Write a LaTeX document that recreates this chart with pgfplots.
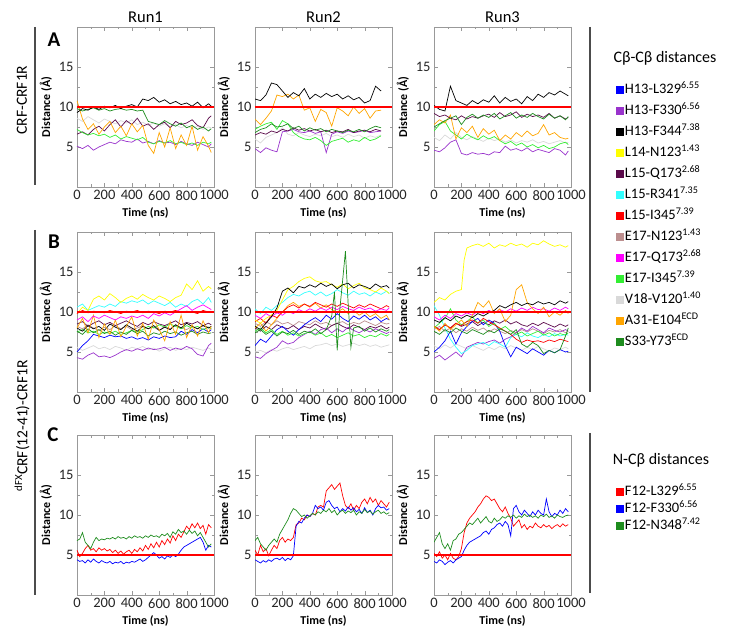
\documentclass[border=0pt]{standalone}
\usepackage{fontspec}
\setmainfont{Carlito}
\usepackage{pgfplots}
\pgfplotsset{compat=1.18}

\definecolor{cBlue}{HTML}{0000FF}
\definecolor{cPurple}{HTML}{9933CC}
\definecolor{cBlack}{HTML}{000000}
\definecolor{cYellow}{HTML}{FFFF00}
\definecolor{cMaroon}{HTML}{5A0A4A}
\definecolor{cCyan}{HTML}{33FFFF}
\definecolor{cRed}{HTML}{FF0000}
\definecolor{cRosy}{HTML}{BC8F8F}
\definecolor{cMagenta}{HTML}{FF00FF}
\definecolor{cGreen}{HTML}{33EE33}
\definecolor{cGray}{HTML}{D9D9D9}
\definecolor{cOrange}{HTML}{FFA500}
\definecolor{cDGreen}{HTML}{1E8C1E}

\pgfplotsset{
  panel/.style={
    scale only axis, width=137pt, height=160pt, anchor=south west,
    xmin=0, xmax=1000, ymin=0, ymax=20,
    xtick={0,200,...,1000}, ytick={5,10,15},
    minor x tick num=1, minor y tick num=1,
    tick align=inside, major tick length=4pt, minor tick length=2.5pt,
    axis line style={black!40}, tick style={black!40},
    tick label style={font=\fontsize{14.5}{15}\selectfont, text=black!85},
    /pgf/number format/assume math mode=true,
    /pgf/number format/1000 sep={},
    label style={font=\fontsize{12}{12}\selectfont\bfseries},
    xlabel={Time (ns)}, ylabel={Distance (Å)},
    every axis plot/.append style={line width=0.7pt},
    legend image code/.code={\fill[##1] (0pt,-3.5pt) rectangle (7pt,3.5pt);},
    legend cell align=left,
  },
  thr/.style={cRed, line width=1.7pt, forget plot},
}

\begin{document}
\begin{tikzpicture}[x=1pt,y=1pt]

% ---------------- row A: CRF-CRF1R ----------------
\begin{axis}[panel, at={(77pt,447pt)}]
\addplot[cGray] coordinates {(0,8.6)(40,8.2)(80,8.8)(120,8.4)(160,8.0)(200,8.5)(240,8.2)(280,7.9)(320,8.3)(360,8.0)(400,8.4)(440,7.8)(480,8.1)(520,7.7)(560,8.0)(600,7.6)(640,7.9)(680,7.5)(720,7.8)(760,7.4)(800,7.7)(840,7.3)(880,7.6)(920,7.2)(960,7.5)(980,7.4)};
\addplot[cPurple] coordinates {(0,5.1)(40,4.8)(80,5.2)(120,4.6)(160,5.0)(200,5.3)(240,5.6)(280,5.4)(320,5.9)(360,5.7)(400,5.6)(440,6.0)(480,5.5)(520,5.7)(560,5.4)(600,5.8)(640,5.5)(680,5.6)(720,5.3)(760,5.7)(800,5.4)(840,5.2)(880,5.6)(920,5.3)(960,5.0)(980,5.4)};
\addplot[cMaroon] coordinates {(0,6.6)(40,6.9)(80,6.5)(120,7.2)(160,7.6)(200,7.0)(240,7.8)(280,8.4)(320,7.5)(360,8.3)(400,7.8)(440,8.6)(480,7.6)(520,7.9)(560,7.2)(600,7.8)(640,8.1)(680,7.4)(720,8.2)(760,7.8)(800,8.0)(840,8.4)(880,7.7)(920,7.4)(960,8.6)(980,8.9)};
\addplot[cGreen] coordinates {(0,7.2)(40,6.8)(80,6.5)(120,6.7)(160,6.4)(200,6.6)(240,6.2)(280,6.5)(320,6.0)(360,6.3)(400,6.1)(440,5.9)(480,6.2)(520,5.6)(560,5.4)(600,5.7)(640,5.5)(680,5.8)(720,5.4)(760,5.6)(800,5.3)(840,5.5)(880,5.2)(920,5.6)(960,5.4)(980,5.6)};
\addplot[cOrange] coordinates {(0,10.8)(40,8.5)(80,7.2)(120,7.9)(160,6.6)(200,7.5)(240,8.2)(280,6.8)(320,7.6)(360,6.4)(400,7.9)(440,6.9)(480,7.7)(520,5.2)(560,4.2)(600,6.8)(640,5.0)(680,7.4)(720,4.8)(760,6.5)(800,5.2)(840,7.6)(880,4.6)(920,6.3)(960,5.1)(980,4.3)};
\addplot[cDGreen] coordinates {(0,9.8)(40,9.5)(80,9.7)(120,9.9)(160,9.6)(200,9.8)(240,9.5)(280,9.7)(320,9.8)(360,9.6)(400,9.7)(440,9.5)(480,9.6)(520,8.2)(560,8.0)(600,7.8)(640,8.3)(680,7.9)(720,7.6)(760,8.0)(800,7.4)(840,7.7)(880,7.2)(920,7.5)(960,7.0)(980,7.3)};
\addplot[cBlack] coordinates {(0,9.3)(40,9.8)(80,9.6)(120,10.0)(160,9.7)(200,10.1)(240,9.9)(280,10.2)(320,9.8)(360,10.1)(400,10.3)(440,10.0)(480,11.0)(520,10.8)(560,11.2)(600,10.6)(640,10.9)(680,10.4)(720,10.7)(760,10.3)(800,10.5)(840,10.1)(880,10.6)(920,9.9)(960,10.4)(980,10.1)};
\addplot[thr] coordinates {(0,10)(1000,10)};
\end{axis}

\begin{axis}[panel, at={(255pt,447pt)}]
\addplot[cGray] coordinates {(0,6.0)(40,5.5)(80,6.2)(120,6.5)(160,6.8)(200,7.4)(240,6.6)(280,6.4)(320,6.8)(360,6.5)(400,6.3)(440,6.6)(480,6.4)(520,6.7)(560,6.3)(600,6.5)(640,6.2)(680,6.6)(720,6.3)(760,6.5)(800,6.1)(840,6.4)(880,6.2)(920,6.5)};
\addplot[cPurple] coordinates {(0,4.8)(40,4.3)(80,4.9)(120,4.6)(160,4.4)(200,6.9)(240,7.0)(280,7.2)(320,6.9)(360,6.8)(400,7.0)(440,6.7)(480,6.9)(520,4.3)(560,6.6)(600,6.9)(640,6.7)(680,7.0)(720,6.8)(760,6.9)(800,7.1)(840,6.8)(880,6.9)(920,7.0)};
\addplot[cMaroon] coordinates {(0,6.5)(40,6.8)(80,6.6)(120,7.0)(160,6.8)(200,7.2)(240,7.0)(280,7.4)(320,7.1)(360,7.3)(400,7.0)(440,7.2)(480,6.9)(520,7.1)(560,6.8)(600,7.0)(640,6.9)(680,7.2)(720,6.8)(760,7.0)(800,7.1)(840,6.9)(880,7.2)(920,7.0)};
\addplot[cGreen] coordinates {(0,7.2)(40,7.6)(80,7.9)(120,8.1)(160,7.2)(200,8.3)(240,7.9)(280,6.8)(320,6.3)(360,6.0)(400,5.9)(440,6.2)(480,5.8)(520,5.2)(560,5.7)(600,5.9)(640,6.1)(680,5.6)(720,5.9)(760,5.7)(800,6.2)(840,5.8)(880,6.0)(920,6.4)};
\addplot[cDGreen] coordinates {(0,6.8)(40,7.2)(80,7.4)(120,7.9)(160,7.5)(200,7.6)(240,7.9)(280,7.3)(320,7.6)(360,7.0)(400,7.4)(440,7.1)(480,7.3)(520,6.9)(560,7.2)(600,7.0)(640,6.8)(680,7.1)(720,6.9)(760,7.2)(800,6.9)(840,7.3)(880,7.6)(920,7.4)};
\addplot[cOrange] coordinates {(0,8.5)(40,7.8)(80,8.6)(120,9.5)(160,11.5)(200,11.3)(240,11.6)(280,11.0)(320,11.5)(360,9.6)(400,9.9)(440,8.2)(480,9.7)(520,9.3)(560,7.6)(600,9.9)(640,9.5)(680,8.9)(720,10.0)(760,9.2)(800,9.8)(840,8.6)(880,9.5)(920,9.6)};
\addplot[cBlack] coordinates {(0,11.0)(40,10.8)(80,11.5)(120,13.0)(160,12.8)(200,12.0)(240,11.2)(280,11.8)(320,11.4)(360,12.3)(400,11.0)(440,11.6)(480,11.2)(520,11.7)(560,11.3)(600,11.6)(640,11.0)(680,11.4)(720,10.9)(760,11.2)(800,10.5)(840,10.8)(880,12.6)(920,12.0)};
\addplot[thr] coordinates {(0,10)(1000,10)};
\end{axis}

\begin{axis}[panel, at={(434pt,447pt)}]
\addplot[cGray] coordinates {(0,6.2)(40,5.8)(80,6.5)(120,6.0)(160,6.8)(200,6.2)(240,5.9)(280,6.3)(320,6.0)(360,5.7)(400,6.1)(440,5.8)(480,6.0)(520,5.6)(560,5.9)(600,5.5)(640,5.8)(680,5.6)(720,5.9)(760,5.5)(800,5.7)(840,5.4)(880,5.6)(920,5.8)(960,5.5)(980,5.6)};
\addplot[cPurple] coordinates {(0,4.6)(40,4.4)(80,4.9)(120,5.6)(160,5.9)(200,4.2)(240,4.0)(280,4.3)(320,4.1)(360,4.2)(400,4.0)(440,4.4)(480,4.3)(520,5.1)(560,4.6)(600,4.8)(640,4.5)(680,4.9)(720,4.4)(760,4.7)(800,4.5)(840,4.3)(880,4.8)(920,4.6)(960,4.0)(980,4.5)};
\addplot[cGreen] coordinates {(0,7.0)(40,7.8)(80,8.2)(120,7.0)(160,6.5)(200,6.0)(240,6.6)(280,6.2)(320,5.9)(360,6.4)(400,6.0)(440,6.3)(480,5.8)(520,5.4)(560,5.7)(600,5.2)(640,5.5)(680,5.0)(720,5.3)(760,4.9)(800,5.2)(840,4.8)(880,5.0)(920,5.4)(960,5.6)(980,5.3)};
\addplot[cOrange] coordinates {(0,7.8)(40,8.4)(80,8.0)(120,9.0)(160,6.0)(200,7.4)(240,6.8)(280,7.6)(320,6.2)(360,7.3)(400,6.6)(440,7.1)(480,5.8)(520,6.5)(560,6.0)(600,6.8)(640,6.3)(680,7.0)(720,6.4)(760,6.7)(800,7.8)(840,6.5)(880,6.8)(920,6.2)(960,6.0)(980,6.1)};
\addplot[cMaroon] coordinates {(0,9.2)(40,8.8)(80,9.0)(120,8.6)(160,8.4)(200,8.9)(240,8.5)(280,8.8)(320,8.6)(360,8.9)(400,9.1)(440,8.7)(480,9.3)(520,8.8)(560,9.0)(600,9.4)(640,8.7)(680,9.1)(720,8.8)(760,9.0)(800,8.7)(840,9.2)(880,8.6)(920,8.9)(960,8.5)(980,8.7)};
\addplot[cDGreen] coordinates {(0,7.5)(40,7.9)(80,8.3)(120,8.6)(160,8.9)(200,7.8)(240,8.7)(280,9.1)(320,8.6)(360,9.0)(400,8.7)(440,9.2)(480,8.5)(520,8.9)(560,9.3)(600,8.6)(640,9.0)(680,8.7)(720,9.2)(760,8.8)(800,8.5)(840,9.1)(880,8.6)(920,8.9)(960,8.4)(980,8.8)};
\addplot[cBlack] coordinates {(0,10.2)(40,9.7)(80,9.5)(120,12.6)(160,10.8)(200,10.5)(240,10.2)(280,10.8)(320,10.4)(360,10.9)(400,10.6)(440,11.4)(480,10.5)(520,11.2)(560,10.7)(600,11.0)(640,10.4)(680,11.3)(720,10.8)(760,11.6)(800,11.2)(840,11.8)(880,11.5)(920,12.0)(960,11.6)(980,11.4)};
\addplot[thr] coordinates {(0,10)(1000,10)};
\end{axis}

% ---------------- row B: dFX CRF(12-41)-CRF1R ----------------
\begin{axis}[panel, at={(77pt,242pt)}]
\addplot[cGray] coordinates {(0,5.6)(40,5.2)(80,5.5)(120,5.8)(160,5.4)(200,5.6)(240,5.3)(280,5.7)(320,5.5)(360,5.2)(400,5.6)(440,5.4)(480,5.7)(520,5.3)(560,5.5)(600,5.1)(640,5.4)(680,5.6)(720,5.2)(760,5.5)(800,5.3)(840,5.6)(880,5.4)(920,5.2)(960,5.5)(980,5.3)};
\addplot[cRosy] coordinates {(0,8.2)(40,7.9)(80,8.4)(120,8.0)(160,7.7)(200,8.1)(240,7.8)(280,8.3)(320,7.9)(360,8.2)(400,7.8)(440,8.0)(480,8.3)(520,7.9)(560,8.1)(600,7.7)(640,8.2)(680,7.9)(720,8.4)(760,8.0)(800,7.8)(840,8.2)(880,7.9)(920,8.3)(960,8.1)(980,7.9)};
\addplot[cMaroon] coordinates {(0,8.5)(40,8.8)(80,8.2)(120,8.6)(160,8.9)(200,8.4)(240,8.7)(280,8.3)(320,8.6)(360,8.9)(400,8.5)(440,8.2)(480,8.7)(520,8.4)(560,8.8)(600,8.5)(640,8.3)(680,8.6)(720,8.9)(760,8.4)(800,8.7)(840,8.5)(880,8.8)(920,8.3)(960,8.6)(980,8.4)};
\addplot[cPurple] coordinates {(0,4.3)(40,4.1)(80,4.6)(120,4.9)(160,4.4)(200,4.5)(240,4.3)(280,4.6)(320,5.0)(360,5.3)(400,5.1)(440,5.4)(480,5.2)(520,5.5)(560,5.3)(600,5.4)(640,5.6)(680,5.2)(720,5.5)(760,5.3)(800,5.7)(840,5.4)(880,4.7)(920,4.5)(960,5.8)(980,6.1)};
\addplot[cBlue] coordinates {(0,5.0)(40,5.8)(80,6.4)(120,7.2)(160,7.0)(200,6.8)(240,7.1)(280,6.9)(320,7.0)(360,6.7)(400,6.9)(440,6.6)(480,6.8)(520,6.5)(560,6.9)(600,6.7)(640,7.0)(680,6.8)(720,6.9)(760,7.6)(800,7.2)(840,7.8)(880,7.4)(920,7.9)(960,7.5)(980,7.8)};
\addplot[cGreen] coordinates {(0,7.5)(40,7.8)(80,7.4)(120,7.6)(160,7.2)(200,7.5)(240,7.3)(280,7.6)(320,7.2)(360,7.4)(400,7.7)(440,7.5)(480,7.8)(520,8.2)(560,8.0)(600,8.4)(640,8.1)(680,8.5)(720,8.2)(760,7.9)(800,8.3)(840,8.0)(880,8.2)(920,7.8)(960,8.1)(980,7.9)};
\addplot[cDGreen] coordinates {(0,7.6)(40,7.2)(80,7.9)(120,7.4)(160,7.8)(200,7.3)(240,7.6)(280,7.1)(320,7.5)(360,7.2)(400,7.7)(440,7.3)(480,7.6)(520,7.0)(560,7.4)(600,7.2)(640,7.6)(680,7.3)(720,7.5)(760,7.1)(800,7.4)(840,7.6)(880,7.2)(920,7.5)(960,7.3)(980,7.4)};
\addplot[cBlack] coordinates {(0,8.0)(40,7.6)(80,8.3)(120,7.9)(160,8.2)(200,7.7)(240,8.5)(280,8.1)(320,7.8)(360,8.4)(400,8.0)(440,7.6)(480,8.2)(520,7.9)(560,8.3)(600,7.7)(640,8.1)(680,7.8)(720,8.4)(760,8.0)(800,8.6)(840,8.2)(880,7.9)(920,8.3)(960,8.0)(980,8.2)};
\addplot[cOrange] coordinates {(0,8.0)(40,9.2)(80,7.4)(120,9.6)(160,6.8)(200,8.5)(240,7.2)(280,9.0)(320,6.9)(360,8.2)(400,9.4)(440,7.0)(480,8.6)(520,6.6)(560,9.0)(600,7.8)(640,6.4)(680,8.8)(720,7.2)(760,9.6)(800,6.8)(840,8.4)(880,7.0)(920,8.9)(960,7.4)(980,8.2)};
\addplot[cCyan] coordinates {(0,10.6)(40,11.0)(80,10.2)(120,10.5)(160,10.8)(200,10.6)(240,11.0)(280,10.7)(320,11.3)(360,11.1)(400,11.4)(440,11.2)(480,11.5)(520,11.0)(560,11.4)(600,11.1)(640,10.8)(680,11.2)(720,10.6)(760,11.0)(800,10.7)(840,11.3)(880,11.6)(920,11.0)(960,11.8)(980,11.2)};
\addplot[cMagenta] coordinates {(0,9.0)(40,9.4)(80,8.8)(120,9.5)(160,9.2)(200,9.6)(240,9.3)(280,9.0)(320,9.4)(360,9.2)(400,9.5)(440,9.3)(480,9.6)(520,9.2)(560,9.8)(600,9.5)(640,9.9)(680,9.6)(720,10.0)(760,10.4)(800,10.8)(840,10.2)(880,10.6)(920,10.9)(960,10.5)(980,10.3)};
\addplot[cYellow] coordinates {(0,9.8)(40,10.6)(80,10.2)(120,11.6)(160,12.0)(200,11.5)(240,12.3)(280,11.8)(320,11.2)(360,11.7)(400,12.0)(440,11.6)(480,12.2)(520,11.8)(560,11.5)(600,12.0)(640,11.7)(680,11.3)(720,11.8)(760,12.1)(800,13.5)(840,12.8)(880,13.9)(920,12.6)(960,13.2)(980,12.9)};
\addplot[cRed] coordinates {(0,9.8)(40,10.2)(80,9.9)(120,10.1)(160,10.0)(200,9.9)(240,10.2)(280,10.0)(320,9.8)(360,10.1)(400,10.0)(440,10.2)(480,9.9)(520,10.1)(560,10.0)(600,9.8)(640,10.1)(680,10.0)(720,10.2)(760,9.9)(800,10.1)(840,10.0)(880,9.8)(920,10.2)(960,10.0)(980,10.1)};
\addplot[thr] coordinates {(0,10)(1000,10)};
\end{axis}

\begin{axis}[panel, at={(255pt,242pt)}]
\addplot[cGray] coordinates {(0,5.0)(40,5.2)(80,4.9)(120,5.3)(160,5.1)(200,5.4)(240,5.6)(280,5.3)(320,5.5)(360,5.7)(400,5.4)(440,5.8)(480,5.9)(520,6.1)(560,5.8)(600,6.0)(640,5.7)(680,5.9)(720,6.1)(760,5.8)(800,6.0)(840,5.7)(880,5.9)(920,5.6)(960,5.8)(980,5.9)};
\addplot[cRosy] coordinates {(0,8.6)(40,8.2)(80,8.8)(120,8.4)(160,8.9)(200,8.5)(240,8.7)(280,8.3)(320,8.8)(360,8.6)(400,8.4)(440,8.9)(480,8.5)(520,8.7)(560,8.3)(600,8.6)(640,8.8)(680,8.4)(720,8.7)(760,8.5)(800,8.9)(840,8.6)(880,8.3)(920,8.7)(960,8.5)(980,8.6)};
\addplot[cMaroon] coordinates {(0,8.0)(40,7.6)(80,8.2)(120,7.8)(160,8.4)(200,8.1)(240,7.9)(280,8.3)(320,7.8)(360,8.2)(400,8.0)(440,8.5)(480,8.1)(520,7.8)(560,8.3)(600,8.6)(640,8.2)(680,7.9)(720,8.4)(760,8.1)(800,7.8)(840,8.2)(880,8.0)(920,8.3)(960,7.9)(980,8.1)};
\addplot[cPurple] coordinates {(0,4.4)(40,4.2)(80,4.8)(120,5.2)(160,5.6)(200,6.4)(240,6.0)(280,6.2)(320,6.8)(360,7.2)(400,7.6)(440,7.2)(480,7.8)(520,8.0)(560,7.4)(600,7.9)(640,7.5)(680,8.1)(720,7.7)(760,7.4)(800,7.8)(840,7.5)(880,7.9)(920,7.6)(960,7.3)(980,7.5)};
\addplot[cBlue] coordinates {(0,5.8)(40,6.6)(80,6.2)(120,7.0)(160,7.8)(200,8.2)(240,7.6)(280,7.1)(320,7.8)(360,8.4)(400,8.9)(440,9.3)(480,8.8)(520,9.6)(560,9.1)(600,9.8)(640,9.2)(680,8.8)(720,9.5)(760,9.1)(800,9.6)(840,9.0)(880,9.4)(920,8.8)(960,9.2)(980,9.0)};
\addplot[cGreen] coordinates {(0,7.6)(40,8.0)(80,7.4)(120,7.8)(160,7.2)(200,7.6)(240,7.1)(280,7.4)(320,7.0)(360,7.3)(400,7.5)(440,7.1)(480,7.4)(520,6.9)(560,7.2)(600,6.8)(640,7.1)(680,7.4)(720,7.0)(760,7.2)(800,6.8)(840,7.1)(880,6.9)(920,7.3)(960,7.0)(980,7.2)};
\addplot[cOrange] coordinates {(0,8.0)(40,8.6)(80,7.6)(120,8.4)(160,9.2)(200,10.0)(240,10.8)(280,11.2)(320,10.7)(360,11.0)(400,10.6)(440,11.1)(480,10.5)(520,10.9)(560,10.3)(600,10.0)(640,10.4)(680,9.8)(720,10.2)(760,9.6)(800,10.0)(840,9.4)(880,9.8)(920,9.2)(960,9.6)(980,9.0)};
\addplot[cRed] coordinates {(0,8.8)(40,9.2)(80,8.6)(120,9.6)(160,9.3)(200,10.0)(240,10.6)(280,10.9)(320,10.5)(360,11.0)(400,10.7)(440,11.2)(480,10.9)(520,10.6)(560,11.0)(600,10.7)(640,11.1)(680,10.8)(720,10.5)(760,10.9)(800,10.6)(840,11.0)(880,10.7)(920,10.4)(960,10.8)(980,10.6)};
\addplot[cMagenta] coordinates {(0,9.6)(40,9.2)(80,9.8)(120,9.4)(160,9.9)(200,9.6)(240,10.1)(280,9.8)(320,10.3)(360,10.0)(400,10.4)(440,10.1)(480,10.5)(520,10.2)(560,10.6)(600,10.3)(640,10.7)(680,10.4)(720,10.2)(760,10.6)(800,10.3)(840,10.5)(880,10.1)(920,10.4)(960,10.2)(980,10.5)};
\addplot[cCyan] coordinates {(0,10.4)(40,9.8)(80,10.6)(120,10.2)(160,10.8)(200,11.2)(240,11.8)(280,12.2)(320,12.0)(360,12.4)(400,12.6)(440,12.1)(480,12.5)(520,12.0)(560,12.3)(600,12.8)(640,12.4)(680,12.1)(720,12.6)(760,12.2)(800,12.4)(840,12.0)(880,12.5)(920,12.2)(960,12.6)(980,12.3)};
\addplot[cYellow] coordinates {(0,9.0)(40,8.6)(80,9.2)(120,9.6)(160,10.2)(200,11.5)(240,12.8)(280,13.2)(320,13.8)(360,14.2)(400,14.4)(440,13.9)(480,13.7)(520,13.8)(560,13.4)(600,13.1)(640,13.5)(680,12.9)(720,13.3)(760,13.6)(800,13.0)(840,12.8)(880,12.5)(920,13.0)(960,12.6)(980,12.3)};
\addplot[cBlack] coordinates {(0,8.2)(40,7.8)(80,8.6)(120,9.4)(160,10.5)(200,12.6)(240,13.0)(280,12.4)(320,13.2)(360,13.0)(400,13.4)(440,13.1)(480,13.6)(520,13.2)(560,13.5)(600,12.9)(640,13.4)(680,13.6)(720,13.0)(760,13.4)(800,13.2)(840,12.9)(880,13.5)(920,13.1)(960,13.3)(980,13.0)};
\addplot[cDGreen] coordinates {(0,7.4)(40,7.8)(80,7.2)(120,7.6)(160,7.0)(200,7.5)(240,7.3)(280,7.7)(320,7.2)(360,7.6)(400,7.4)(440,7.9)(480,7.3)(520,7.8)(560,9.5)(580,12.5)(600,5.2)(620,10.5)(640,14.0)(660,17.6)(680,11.0)(700,5.6)(720,8.0)(760,8.2)(800,7.6)(840,8.0)(880,7.5)(920,7.9)(960,7.6)(980,7.8)};
\addplot[thr] coordinates {(0,10)(1000,10)};
\end{axis}

\begin{axis}[panel, at={(434pt,242pt)},
  legend style={at={(1.328,1.934)}, anchor=north west, draw=none, fill=none,
    font=\fontsize{14.5}{15}\selectfont, row sep=6pt, inner sep=0pt,
    nodes={inner sep=1pt, text height=10pt, text depth=3pt}}]
\addplot[cGray, forget plot] coordinates {(0,5.8)(40,5.4)(80,5.9)(120,5.5)(160,6.0)(200,5.7)(240,5.4)(280,5.8)(320,5.5)(360,5.2)(400,5.6)(440,5.3)(480,5.7)(520,5.4)(560,5.8)(600,5.5)(640,5.2)(680,5.6)(720,5.3)(760,5.7)(800,5.4)(840,5.1)(880,5.5)(920,5.3)(960,5.6)(980,5.4)};
\addplot[cRosy, forget plot] coordinates {(0,7.8)(40,8.2)(80,7.6)(120,8.0)(160,7.4)(200,7.9)(240,7.6)(280,8.1)(320,7.7)(360,8.0)(400,7.5)(440,7.9)(480,7.6)(520,7.3)(560,7.7)(600,7.4)(640,7.8)(680,7.5)(720,7.9)(760,7.6)(800,7.3)(840,7.7)(880,7.5)(920,7.8)(960,7.4)(980,7.6)};
\addplot[cMaroon, forget plot] coordinates {(0,8.2)(40,7.8)(80,8.4)(120,8.0)(160,8.6)(200,8.2)(240,8.5)(280,8.8)(320,8.3)(360,8.7)(400,8.4)(440,8.9)(480,8.6)(520,9.0)(560,8.5)(600,8.8)(640,8.4)(680,8.2)(720,8.6)(760,8.3)(800,8.7)(840,8.4)(880,8.1)(920,8.5)(960,8.2)(980,8.4)};
\addplot[cPurple, forget plot] coordinates {(0,4.2)(40,4.6)(80,4.0)(120,4.5)(160,5.0)(200,4.4)(240,5.6)(280,5.9)(320,6.2)(360,6.0)(400,6.3)(440,6.5)(480,6.1)(520,6.6)(560,6.9)(600,7.4)(640,8.0)(680,7.6)(720,8.2)(760,7.8)(800,7.4)(840,8.0)(880,7.7)(920,7.5)(960,7.8)(980,7.6)};
\addplot[cCyan, forget plot] coordinates {(0,10.8)(40,9.6)(80,8.0)(120,6.6)(160,5.6)(200,4.8)(240,5.2)(280,5.8)(320,6.0)(360,6.2)(400,5.8)(440,6.3)(480,6.0)(520,5.6)(560,6.8)(600,7.2)(640,6.9)(680,7.4)(720,7.0)(760,6.8)(800,7.2)(840,6.9)(880,7.3)(920,7.0)(960,7.2)(980,7.1)};
\addplot[cBlue, forget plot] coordinates {(0,5.0)(40,5.6)(80,6.4)(120,7.6)(160,6.0)(200,7.4)(240,8.2)(280,8.8)(320,9.2)(360,8.4)(400,9.0)(440,8.6)(480,7.6)(520,5.8)(560,4.4)(600,5.6)(640,5.2)(680,4.8)(720,5.4)(760,5.0)(800,4.6)(840,5.2)(880,4.9)(920,5.3)(960,5.0)(980,5.1)};
\addplot[cGreen, forget plot] coordinates {(0,8.0)(40,8.6)(80,9.2)(120,10.4)(160,9.0)(200,8.4)(240,8.8)(280,9.4)(320,8.6)(360,9.0)(400,8.2)(440,8.6)(480,7.8)(520,8.2)(560,7.6)(600,7.2)(640,7.5)(680,7.0)(720,7.3)(760,7.6)(800,7.1)(840,7.4)(880,7.0)(920,7.3)(960,7.1)(980,7.4)};
\addplot[cRed, forget plot] coordinates {(0,8.2)(40,7.8)(80,8.4)(120,8.0)(160,8.6)(200,8.3)(240,8.8)(280,9.0)(320,8.6)(360,9.2)(400,8.8)(440,8.4)(480,8.0)(520,7.6)(560,7.2)(600,6.6)(640,6.2)(680,6.5)(720,6.3)(760,6.4)(800,6.2)(840,6.5)(880,6.3)(920,6.6)(960,6.4)(980,6.3)};
\addplot[cDGreen, forget plot] coordinates {(0,7.6)(40,7.2)(80,7.8)(120,7.4)(160,8.0)(200,7.6)(240,7.3)(280,7.8)(320,7.5)(360,7.2)(400,7.7)(440,7.4)(480,7.9)(520,7.6)(560,7.2)(600,7.8)(640,6.0)(680,5.6)(720,6.2)(760,5.8)(800,4.8)(840,5.2)(880,4.9)(920,5.3)(960,7.0)(980,8.0)};
\addplot[cMagenta, forget plot] coordinates {(0,9.4)(40,9.0)(80,9.6)(120,9.2)(160,9.8)(200,9.5)(240,9.9)(280,9.6)(320,10.1)(360,9.8)(400,10.2)(440,9.9)(480,10.3)(520,10.0)(560,10.4)(600,10.1)(640,10.5)(680,10.2)(720,10.6)(760,10.3)(800,10.4)(840,10.1)(880,10.5)(920,10.2)(960,10.6)(980,10.4)};
\addplot[cOrange, forget plot] coordinates {(0,8.2)(40,7.6)(80,8.6)(120,7.8)(160,8.4)(200,9.0)(240,8.2)(280,9.6)(320,11.2)(360,10.6)(400,11.4)(440,9.8)(480,10.4)(520,8.8)(560,9.6)(600,12.8)(640,13.4)(680,11.2)(720,10.4)(760,9.8)(800,10.6)(840,9.4)(880,10.0)(920,9.6)(960,10.2)(980,9.8)};
\addplot[cBlack, forget plot] coordinates {(0,9.0)(40,8.7)(80,9.3)(120,8.9)(160,9.5)(200,9.2)(240,9.6)(280,9.3)(320,9.8)(360,9.5)(400,9.9)(440,10.2)(480,10.8)(520,10.5)(560,10.9)(600,11.2)(640,10.8)(680,11.1)(720,10.9)(760,11.3)(800,11.0)(840,11.2)(880,10.9)(920,11.4)(960,11.1)(980,11.3)};
\addplot[cYellow, forget plot] coordinates {(0,11.2)(40,11.8)(80,11.5)(120,12.2)(160,12.6)(200,12.8)(220,16.5)(240,18.0)(280,18.3)(320,18.5)(360,18.2)(400,18.6)(440,18.0)(480,18.4)(520,18.2)(560,18.6)(600,18.3)(640,18.5)(680,18.1)(720,18.6)(760,18.4)(800,18.9)(840,18.5)(880,18.2)(920,18.4)(960,18.1)(980,18.3)};
\addplot[thr] coordinates {(0,10)(1000,10)};
\addlegendimage{cBlue}\addlegendentry{H13-L329\textsuperscript{6.55}}
\addlegendimage{cPurple}\addlegendentry{H13-F330\textsuperscript{6.56}}
\addlegendimage{cBlack}\addlegendentry{H13-F344\textsuperscript{7.38}}
\addlegendimage{cYellow}\addlegendentry{L14-N123\textsuperscript{1.43}}
\addlegendimage{cMaroon}\addlegendentry{L15-Q173\textsuperscript{2.68}}
\addlegendimage{cCyan}\addlegendentry{L15-R341\textsuperscript{7.35}}
\addlegendimage{cRed}\addlegendentry{L15-I345\textsuperscript{7.39}}
\addlegendimage{cRosy}\addlegendentry{E17-N123\textsuperscript{1.43}}
\addlegendimage{cMagenta}\addlegendentry{E17-Q173\textsuperscript{2.68}}
\addlegendimage{cGreen}\addlegendentry{E17-I345\textsuperscript{7.39}}
\addlegendimage{cGray}\addlegendentry{V18-V120\textsuperscript{1.40}}
\addlegendimage{cOrange}\addlegendentry{A31-E104\textsuperscript{ECD}}
\addlegendimage{cDGreen}\addlegendentry{S33-Y73\textsuperscript{ECD}}
\end{axis}

% ---------------- row C: N-Cbeta distances ----------------
\begin{axis}[panel, at={(77pt,39pt)}]
\addplot[cRed] coordinates {(0,5.6)(20,4.8)(40,5.2)(60,5.8)(80,6.2)(100,5.6)(120,5.8)(140,5.4)(160,5.9)(180,5.6)(200,5.8)(220,5.5)(240,5.7)(260,5.3)(280,5.6)(300,5.2)(320,5.5)(340,5.1)(360,5.4)(380,5.6)(400,5.2)(420,5.7)(440,5.4)(460,5.9)(480,5.5)(500,6.2)(520,5.7)(540,6.4)(560,5.9)(580,6.6)(600,6.0)(620,6.8)(640,6.3)(660,7.0)(680,6.5)(700,7.4)(720,6.8)(740,7.6)(760,7.2)(780,7.9)(800,8.6)(820,8.2)(840,8.9)(860,8.4)(880,9.0)(900,8.3)(920,8.7)(940,7.6)(960,8.8)(980,8.4)};
\addplot[cBlue] coordinates {(0,4.4)(20,4.2)(40,4.3)(60,4.0)(80,4.4)(100,4.1)(120,4.5)(140,4.2)(160,4.0)(180,4.3)(200,4.1)(220,4.0)(240,4.2)(260,3.9)(280,4.1)(300,4.0)(320,4.2)(340,3.9)(360,4.1)(380,4.0)(400,4.2)(420,4.1)(440,4.3)(460,4.5)(480,4.2)(500,4.4)(520,4.7)(540,5.0)(560,5.3)(580,5.0)(600,4.6)(620,4.8)(640,4.5)(660,4.9)(680,4.7)(700,5.0)(720,4.8)(740,5.1)(760,5.6)(780,6.0)(800,6.2)(820,6.4)(840,6.6)(860,6.8)(880,7.0)(900,7.2)(920,6.6)(940,5.6)(960,6.2)(980,6.0)};
\addplot[cDGreen] coordinates {(0,6.8)(20,7.0)(40,7.8)(60,6.6)(80,6.2)(100,5.8)(120,6.6)(140,7.2)(160,6.8)(180,7.0)(200,6.9)(220,7.1)(240,7.0)(260,7.2)(280,7.0)(300,7.3)(320,7.1)(340,7.2)(360,7.0)(380,7.3)(400,7.1)(420,7.4)(440,7.2)(460,7.3)(480,7.1)(500,7.4)(520,7.2)(540,7.5)(560,7.3)(580,7.4)(600,7.2)(620,7.6)(640,7.4)(660,7.7)(680,7.2)(700,7.9)(720,7.6)(740,8.2)(760,7.8)(780,8.0)(800,7.6)(820,8.1)(840,7.7)(860,8.0)(880,7.4)(900,7.8)(920,7.2)(940,6.6)(960,6.0)(980,6.4)};
\addplot[thr] coordinates {(0,5)(1000,5)};
\end{axis}

\begin{axis}[panel, at={(255pt,39pt)}]
\addplot[cRed] coordinates {(0,5.6)(20,5.0)(40,6.2)(60,5.4)(80,5.8)(100,4.9)(120,5.6)(140,6.2)(160,5.8)(180,6.8)(200,7.2)(220,6.6)(240,7.0)(260,6.8)(280,7.2)(300,8.8)(320,9.0)(340,9.6)(360,9.4)(380,10.0)(400,9.8)(420,10.2)(440,10.0)(460,11.0)(480,11.2)(500,11.0)(520,13.0)(540,13.4)(560,13.8)(580,13.2)(600,13.6)(620,14.0)(640,12.4)(660,11.2)(680,10.8)(700,11.4)(720,10.6)(740,11.2)(760,10.8)(780,11.6)(800,12.0)(820,11.4)(840,12.2)(860,11.6)(880,12.0)(900,11.2)(920,11.8)(940,11.4)(960,11.0)(980,11.6)};
\addplot[cBlue] coordinates {(0,4.4)(20,4.2)(40,4.0)(60,4.3)(80,4.1)(100,4.4)(120,4.2)(140,4.5)(160,4.6)(180,4.4)(200,4.7)(220,4.3)(240,4.6)(260,4.4)(280,4.9)(300,8.6)(320,9.2)(340,9.0)(360,9.6)(380,10.0)(400,9.8)(420,10.2)(440,11.2)(460,10.8)(480,11.0)(500,10.6)(520,11.6)(540,11.8)(560,11.2)(580,10.8)(600,11.0)(620,10.4)(640,10.8)(660,10.5)(680,11.0)(700,10.6)(720,10.9)(740,10.4)(760,10.7)(780,10.2)(800,10.9)(820,10.3)(840,10.6)(860,10.0)(880,10.8)(900,11.2)(920,10.9)(940,11.0)(960,10.6)(980,10.8)};
\addplot[cDGreen] coordinates {(0,6.8)(20,7.2)(40,6.4)(60,6.0)(80,5.6)(100,6.2)(120,6.6)(140,7.0)(160,6.6)(180,7.6)(200,8.2)(220,8.8)(240,9.4)(260,10.2)(280,10.8)(300,10.6)(320,10.2)(340,9.8)(360,10.0)(380,9.6)(400,9.9)(420,10.2)(440,10.0)(460,10.4)(480,10.2)(500,10.6)(520,10.4)(540,10.8)(560,10.3)(580,10.6)(600,10.0)(620,10.4)(640,10.6)(660,10.2)(680,10.5)(700,10.3)(720,10.6)(740,10.0)(760,10.4)(780,10.2)(800,10.7)(820,10.3)(840,10.5)(860,10.1)(880,10.4)(900,10.6)(920,10.2)(940,10.4)(960,10.1)(980,10.3)};
\addplot[thr] coordinates {(0,5)(1000,5)};
\end{axis}

\begin{axis}[panel, at={(434pt,39pt)},
  legend style={at={(1.328,0.69)}, anchor=north west, draw=none, fill=none,
    font=\fontsize{14.5}{15}\selectfont, row sep=2pt, inner sep=0pt,
    nodes={inner sep=1pt, text height=10pt, text depth=3pt}}]
\addplot[cRed] coordinates {(0,5.2)(20,4.8)(40,5.4)(60,4.6)(80,5.0)(100,4.4)(120,5.2)(140,4.6)(160,4.4)(180,4.8)(200,5.8)(220,7.8)(240,9.0)(260,9.6)(280,10.0)(300,10.4)(320,11.0)(340,11.4)(360,12.0)(380,12.4)(400,12.2)(420,11.8)(440,12.0)(460,11.4)(480,10.8)(500,10.4)(520,11.0)(540,10.2)(560,9.6)(580,8.6)(600,9.0)(620,9.4)(640,8.4)(660,8.8)(680,8.2)(700,8.6)(720,8.4)(740,9.0)(760,8.6)(780,8.4)(800,8.8)(820,8.5)(840,8.7)(860,8.3)(880,8.6)(900,8.8)(920,8.5)(940,8.9)(960,8.6)(980,8.8)};
\addlegendentry{F12-L329\textsuperscript{6.55}}
\addplot[cBlue] coordinates {(0,4.2)(20,4.0)(40,4.4)(60,4.2)(80,3.8)(100,4.1)(120,4.3)(140,4.0)(160,4.4)(180,4.6)(200,4.8)(220,5.6)(240,6.2)(260,6.6)(280,6.8)(300,7.0)(320,7.2)(340,7.4)(360,7.8)(380,8.0)(400,7.6)(420,8.2)(440,8.4)(460,8.8)(480,9.0)(500,8.6)(520,9.2)(540,8.8)(560,7.4)(580,10.8)(600,11.2)(620,10.4)(640,10.0)(660,10.6)(680,10.2)(700,9.8)(720,10.4)(740,10.0)(760,10.6)(780,10.2)(800,10.0)(820,12.0)(840,10.4)(860,9.8)(880,10.2)(900,10.0)(920,10.6)(940,10.2)(960,10.8)(980,10.4)};
\addlegendentry{F12-F330\textsuperscript{6.56}}
\addplot[cDGreen] coordinates {(0,6.6)(20,7.2)(40,7.8)(60,6.4)(80,5.8)(100,6.4)(120,5.6)(140,6.8)(160,7.0)(180,7.6)(200,7.8)(220,8.2)(240,8.6)(260,9.0)(280,8.8)(300,9.2)(320,9.6)(340,9.0)(360,9.4)(380,9.8)(400,9.2)(420,9.0)(440,9.6)(460,9.2)(480,9.4)(500,9.8)(520,9.6)(540,9.9)(560,9.7)(580,10.0)(600,9.6)(620,9.9)(640,9.7)(660,10.1)(680,9.8)(700,10.0)(720,9.7)(740,9.9)(760,9.6)(780,10.0)(800,9.8)(820,10.1)(840,9.7)(860,9.9)(880,9.6)(900,10.0)(920,9.8)(940,9.7)(960,9.9)(980,10.0)};
\addlegendentry{F12-N348\textsuperscript{7.42}}
\addplot[thr] coordinates {(0,5)(1000,5)};
\end{axis}

% ---------------- titles, row labels, separators ----------------
\node[font=\fontsize{16.5}{17}\selectfont] at (145.5pt,617pt) {Run1};
\node[font=\fontsize{16.5}{17}\selectfont] at (323.5pt,617pt) {Run2};
\node[font=\fontsize{16.5}{17}\selectfont] at (502.5pt,617pt) {Run3};

\node[font=\fontsize{21}{21}\selectfont\bfseries] at (54pt,594pt) {A};
\node[font=\fontsize{21}{21}\selectfont\bfseries] at (54pt,392pt) {B};
\node[font=\fontsize{21}{21}\selectfont\bfseries] at (53pt,199pt) {C};

\node[rotate=90, font=\fontsize{15.5}{16}\selectfont] at (22pt,534pt) {CRF-CRF1R};
\node[rotate=90, font=\fontsize{15.5}{16}\selectfont] at (22pt,208pt) {\textsuperscript{dFX}CRF(12-41)-CRF1R};
\draw[black!70, line width=1.2pt] (35pt,607pt) -- (35pt,449pt);
\draw[black!70, line width=1.2pt] (35pt,404pt) -- (35pt,39pt);
\draw[black!70, line width=1.2pt] (590pt,607pt) -- (590pt,242pt);
\draw[black!70, line width=1.2pt] (590pt,201pt) -- (590pt,41pt);

\node[font=\fontsize{16}{16}\selectfont] at (665pt,576pt) {Cβ-Cβ distances};
\node[font=\fontsize{16}{16}\selectfont] at (661pt,174pt) {N-Cβ distances};

\pgfresetboundingbox
\path[use as bounding box] (0pt,0pt) rectangle (738pt,634pt);
\end{tikzpicture}
\end{document}
